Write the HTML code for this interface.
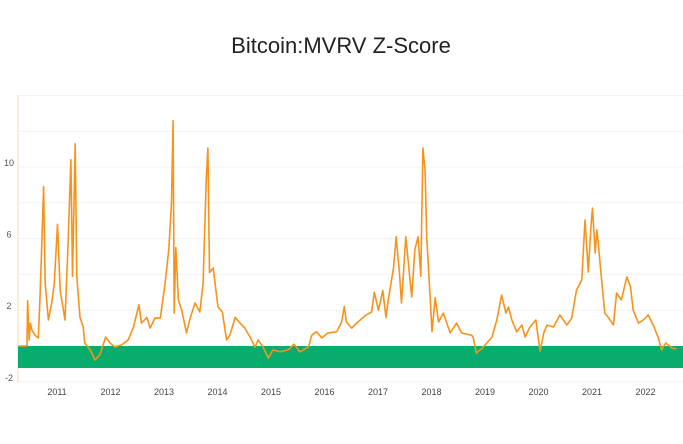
<!DOCTYPE html>
<html><head><meta charset="utf-8"><style>
body{margin:0;background:#fff;font-family:"Liberation Sans",sans-serif}
svg{display:block}
</style></head><body>
<svg id="chart" width="683" height="444">
<text x="341" y="53" text-anchor="middle" font-size="22" fill="#222">Bitcoin:MVRV Z-Score</text>
</svg>
<script>
const yTicks=[-2,0,2,4,6,8,10,12,14];
const yLabels=[-2,2,6,10];
const xYears=[2011,2012,2013,2014,2015,2016,2017,2018,2019,2020,2021,2022];
const bandRange=[0,-1.23];
const dates=[2010.28,2010.44,2010.45,2010.48,2010.50,2010.53,2010.59,2010.65,2010.68,2010.71,2010.75,2010.78,2010.84,2010.90,2010.95,2011.01,2011.06,2011.15,2011.21,2011.26,2011.29,2011.34,2011.37,2011.43,2011.49,2011.52,2011.62,2011.71,2011.80,2011.91,2011.99,2012.08,2012.21,2012.33,2012.43,2012.53,2012.58,2012.68,2012.74,2012.83,2012.93,2013.02,2013.09,2013.14,2013.17,2013.19,2013.22,2013.27,2013.33,2013.42,2013.49,2013.58,2013.67,2013.73,2013.79,2013.82,2013.85,2013.92,2014.01,2014.09,2014.17,2014.23,2014.33,2014.42,2014.51,2014.61,2014.70,2014.76,2014.86,2014.95,2015.04,2015.17,2015.32,2015.43,2015.54,2015.70,2015.76,2015.85,2015.95,2016.07,2016.23,2016.32,2016.37,2016.41,2016.51,2016.60,2016.76,2016.88,2016.93,2017.01,2017.09,2017.15,2017.19,2017.29,2017.34,2017.40,2017.44,2017.52,2017.63,2017.69,2017.75,2017.80,2017.84,2017.88,2017.91,2017.97,2018.01,2018.07,2018.13,2018.22,2018.35,2018.47,2018.56,2018.75,2018.78,2018.84,2018.91,2018.97,2019.13,2019.22,2019.31,2019.39,2019.44,2019.50,2019.59,2019.69,2019.75,2019.84,2019.95,2020.03,2020.10,2020.16,2020.28,2020.40,2020.53,2020.62,2020.71,2020.81,2020.87,2020.93,2020.98,2021.01,2021.06,2021.09,2021.12,2021.18,2021.24,2021.30,2021.40,2021.46,2021.55,2021.65,2021.72,2021.77,2021.87,2021.96,2022.05,2022.16,2022.24,2022.30,2022.38,2022.49,2022.58,2022.66];
const zscores=[0,0,2.53,0.33,1.28,0.9,0.6,0.45,2.57,5.2,8.9,3.5,1.45,2.4,3.5,6.8,3.1,1.45,5.9,10.4,3.9,11.3,3.9,1.6,1.06,0.17,-0.22,-0.78,-0.5,0.5,0.17,-0.05,0.06,0.34,1.06,2.3,1.28,1.6,1.0,1.56,1.56,3.5,5.4,8.0,12.6,1.84,5.5,2.57,2.0,0.73,1.56,2.4,1.9,3.5,9.4,11.06,4.1,4.36,2.18,1.9,0.34,0.6,1.6,1.28,1.0,0.5,-0.06,0.34,-0.1,-0.67,-0.22,-0.33,-0.22,0.1,-0.33,-0.05,0.6,0.8,0.45,0.73,0.8,1.34,2.2,1.34,1.0,1.28,1.7,1.9,3.0,2.0,3.1,1.6,2.57,4.36,6.1,4.1,2.4,6.1,2.74,5.4,6.1,3.9,11.06,9.8,6.1,2.96,0.8,2.7,1.34,1.84,0.73,1.28,0.73,0.6,0.5,-0.4,-0.22,-0.05,0.5,1.45,2.85,1.84,2.18,1.45,0.8,1.17,0.5,1.06,1.45,-0.28,0.73,1.17,1.06,1.73,1.17,1.56,3.13,3.69,7.04,4.13,6.65,7.7,5.2,6.48,5.64,3.69,1.84,1.62,1.17,2.96,2.57,3.86,3.3,2.0,1.28,1.45,1.73,1.06,0.45,-0.22,0.17,-0.1,-0.17];

const svg=document.getElementById('chart');
const NS='http://www.w3.org/2000/svg';
const X0=18,X1=683;
function xs(yr){return 57+(yr-2011)*53.5;}
function ys(v){return 346-17.9*v;}
function mk(t,a){const e=document.createElementNS(NS,t);for(const k in a)e.setAttribute(k,a[k]);svg.appendChild(e);return e;}

yTicks.forEach(v=>{
  const l=mk('line',{x1:X0,x2:X1,y1:ys(v),y2:ys(v),stroke:'#f3f3f3','stroke-width':1});
  
  
});
yLabels.forEach(v=>{
  const t=mk('text',{x:9,y:ys(v)-1,'text-anchor':'middle','font-size':9,fill:'#555'});
  t.textContent=v;
  
  
});
xYears.forEach(y=>{
  const t=mk('text',{x:xs(y),y:395,'text-anchor':'middle','font-size':9,fill:'#444'});
  t.textContent=y;
  
  
});
const ax=mk('line',{x1:X0,x2:X0,y1:95,y2:382,stroke:'#fbd9b0','stroke-width':1});



const band=mk('rect',{x:X0,y:ys(bandRange[0]),width:X1-X0,height:ys(bandRange[1])-ys(bandRange[0]),fill:'#08ad6e'});



let d='';
dates.forEach((yr,i)=>{d+=(i?'L':'M')+xs(yr).toFixed(1)+','+ys(zscores[i]).toFixed(1);});
const line=mk('path',{d:d,fill:'none',stroke:'#f7931a','stroke-width':1.6,'stroke-linejoin':'round'});


</script>
</body></html>
